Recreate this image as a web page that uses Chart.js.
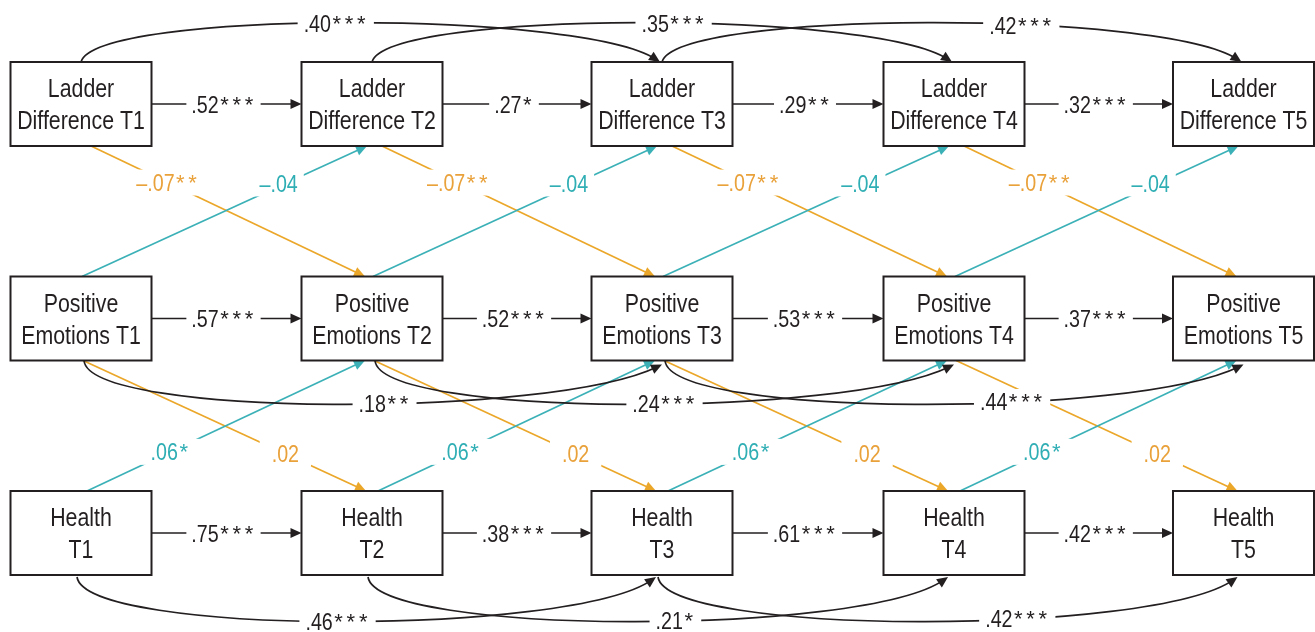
<!DOCTYPE html>
<html>
<head>
<meta charset="utf-8">
<script src="https://cdn.jsdelivr.net/npm/chart.js@4.4.1/dist/chart.umd.min.js"></script>
<style>
  html, body { margin: 0; padding: 0; background: #ffffff; }
  #wrap { width: 1315px; height: 632px; position: relative; }
</style>
</head>
<body>
<div id="wrap"><canvas id="diagram"></canvas></div>
<script>
// ---- Model structure -------------------------------------------------------
const timepoints = ['T1', 'T2', 'T3', 'T4', 'T5'];
const captionFirst = ['Ladder', 'Positive', 'Health'];
const captionSecond = ['Difference', 'Emotions', ''];

// Autoregressive paths (Ti -> Ti+1)
const ladderStability = [0.52, 0.27, 0.29, 0.32];
const ladderStabilitySig = ['***', '*', '**', '***'];
const emotionStability = [0.57, 0.52, 0.53, 0.37];
const emotionStabilitySig = ['***', '***', '***', '***'];
const healthStability = [0.75, 0.38, 0.61, 0.42];
const healthStabilitySig = ['***', '***', '***', '***'];

// Lag-2 paths (Ti -> Ti+2)
const ladderLag2 = [0.40, 0.35, 0.42];
const ladderLag2Sig = ['***', '***', '***'];
const emotionLag2 = [0.18, 0.24, 0.44];
const emotionLag2Sig = ['**', '***', '***'];
const healthLag2 = [0.46, 0.21, 0.42];
const healthLag2Sig = ['***', '*', '***'];

// Cross-lagged paths (constrained equal over time)
const ladderToEmotion = [-0.07, -0.07, -0.07, -0.07];
const ladderToEmotionSig = ['**', '**', '**', '**'];
const emotionToLadder = [-0.04, -0.04, -0.04, -0.04];
const emotionToLadderSig = ['', '', '', ''];
const emotionToHealth = [0.02, 0.02, 0.02, 0.02];
const emotionToHealthSig = ['', '', '', ''];
const healthToEmotion = [0.06, 0.06, 0.06, 0.06];
const healthToEmotionSig = ['*', '*', '*', '*'];

// ---- Layout and styling ----------------------------------------------------
const colX = [81, 372, 662, 954, 1243.5];
const rowY = [104, 318.5, 533];
const boxW = 141, boxH = 84;
const INK = '#231f20';
const ORANGE_LINE = '#eba729';
const ORANGE_TEXT = '#e9a13a';
const TEAL_LINE = '#3bb1b7';
const TEAL_TEXT = '#2faeb4';
const NARROW = 0.82;   // horizontal squeeze for a condensed look
const NODE_FONT = "26px 'Liberation Sans', Arial, sans-serif";
const LABEL_FONT = "24px 'Liberation Sans', Arial, sans-serif";
const STAR_FONT = "22px 'Liberation Sans', Arial, sans-serif";
const LINE_W = 1.7;

// where each lag-2 label sits along its arc (fraction of horizontal span)
const lag2LabelPos = [[0.44, 0.52, 0.62], [0.52, 0.50, 0.60], [0.45, 0.53, 0.62]];

function fmt(v) {
  const s = Math.abs(v).toFixed(2).replace(/^0/, '');
  return (v < 0 ? '\u2013' : '') + s;
}

const pathDiagram = {
  id: 'pathDiagram',
  afterDraw(chart) {
    const ctx = chart.ctx;
    const xs = chart.scales.x, ys = chart.scales.y;
    const X = v => xs.getPixelForValue(v);
    const Y = v => ys.getPixelForValue(v);
    const labels = [];

    function narrowText(text, x, y, align) {
      ctx.save();
      ctx.translate(x, y);
      ctx.scale(NARROW, 1);
      ctx.textAlign = align;
      ctx.textBaseline = 'alphabetic';
      ctx.fillText(text, 0, 0);
      ctx.restore();
    }

    function arrowHead(x, y, ang, color) {
      const L = 11, W = 5;
      ctx.save();
      ctx.fillStyle = color;
      ctx.beginPath();
      ctx.moveTo(x, y);
      ctx.lineTo(x - L * Math.cos(ang) + W * Math.sin(ang), y - L * Math.sin(ang) - W * Math.cos(ang));
      ctx.lineTo(x - L * Math.cos(ang) - W * Math.sin(ang), y - L * Math.sin(ang) + W * Math.cos(ang));
      ctx.closePath();
      ctx.fill();
      ctx.restore();
    }

    function straight(x0, y0, x1, y1, color) {
      const a = Math.atan2(Y(y1) - Y(y0), X(x1) - X(x0));
      ctx.save();
      ctx.strokeStyle = color;
      ctx.lineWidth = LINE_W;
      ctx.beginPath();
      ctx.moveTo(X(x0), Y(y0));
      ctx.lineTo(X(x1) - 6 * Math.cos(a), Y(y1) - 6 * Math.sin(a));
      ctx.stroke();
      ctx.restore();
      arrowHead(X(x1), Y(y1), a, color);
    }

    function bez(p, t) {
      const u = 1 - t;
      return [
        u*u*u*p[0][0] + 3*u*u*t*p[1][0] + 3*u*t*t*p[2][0] + t*t*t*p[3][0],
        u*u*u*p[0][1] + 3*u*u*t*p[1][1] + 3*u*t*t*p[2][1] + t*t*t*p[3][1]
      ];
    }

    function curve(p, color) {
      const q = p.map(pt => [X(pt[0]), Y(pt[1])]);
      const a = Math.atan2(q[3][1] - q[2][1], q[3][0] - q[2][0]);
      ctx.save();
      ctx.strokeStyle = color;
      ctx.lineWidth = LINE_W;
      ctx.beginPath();
      ctx.moveTo(q[0][0], q[0][1]);
      ctx.bezierCurveTo(q[1][0], q[1][1], q[2][0], q[2][1], q[3][0] - 5 * Math.cos(a), q[3][1] - 5 * Math.sin(a));
      ctx.stroke();
      ctx.restore();
      arrowHead(q[3][0], q[3][1], a, color);
    }

    function pointAtX(p, frac) {
      const target = p[0][0] + frac * (p[3][0] - p[0][0]);
      let lo = 0, hi = 1;
      for (let k = 0; k < 40; k++) {
        const m = (lo + hi) / 2;
        if (bez(p, m)[0] < target) lo = m; else hi = m;
      }
      return bez(p, (lo + hi) / 2);
    }

    function queueLabel(v, sig, x, y, color, pad) {
      labels.push({ num: fmt(v), sig, x: X(x), y: Y(y), color, pad });
    }

    function drawLabel(l) {
      ctx.save();
      ctx.font = LABEL_FONT;
      const wNum = ctx.measureText(l.num).width * NARROW;
      const starStep = 12.3;
      const w = wNum + l.sig.length * starStep;
      const left = l.x - w / 2;
      ctx.fillStyle = '#ffffff';
      ctx.fillRect(left - l.pad, l.y - 13, w + 2 * l.pad, 26);
      ctx.fillStyle = l.color;
      narrowText(l.num, left, l.y + 8.5, 'left');
      ctx.font = STAR_FONT;
      ctx.textAlign = 'left';
      ctx.textBaseline = 'alphabetic';
      for (let s = 0; s < l.sig.length; s++) {
        ctx.fillText('*', left + wNum + s * starStep + 1.5, l.y + 7.5);
      }
      ctx.restore();
    }

    const top = r => rowY[r] - boxH / 2;
    const bot = r => rowY[r] + boxH / 2;

    // autoregressive arrows
    const stability = [[ladderStability, ladderStabilitySig], [emotionStability, emotionStabilitySig], [healthStability, healthStabilitySig]];
    stability.forEach(([vals, sig], r) => {
      vals.forEach((v, i) => {
        const x0 = colX[i] + boxW / 2, x1 = colX[i + 1] - boxW / 2;
        straight(x0, rowY[r], x1, rowY[r], INK);
        queueLabel(v, sig[i], (x0 + x1) / 2 - 3, rowY[r], INK, 5);
      });
    });

    // cross-lagged arrows
    for (let i = 0; i < 4; i++) {
      // ladder -> emotions
      let a = [colX[i] + 10, bot(0)], b = [colX[i + 1] - 7, top(1)];
      straight(a[0], a[1], b[0], b[1], ORANGE_LINE);
      queueLabel(ladderToEmotion[i], ladderToEmotionSig[i], a[0] + 0.28 * (b[0] - a[0]), a[1] + 0.28 * (b[1] - a[1]), ORANGE_TEXT, 6);
      // emotions -> ladder
      a = [colX[i] + 1, top(1)]; b = [colX[i + 1] - 5, bot(0)];
      straight(a[0], a[1], b[0], b[1], TEAL_LINE);
      queueLabel(emotionToLadder[i], emotionToLadderSig[i], a[0] + 0.69 * (b[0] - a[0]), a[1] + 0.69 * (b[1] - a[1]) - 3, TEAL_TEXT, 6);
      // emotions -> health
      a = [colX[i] + 2, bot(1)]; b = [colX[i + 1] - 6, top(2)];
      straight(a[0], a[1], b[0], b[1], ORANGE_LINE);
      queueLabel(emotionToHealth[i], emotionToHealthSig[i], a[0] + 0.715 * (b[0] - a[0]), a[1] + 0.715 * (b[1] - a[1]), ORANGE_TEXT, 12);
      // health -> emotions
      a = [colX[i] + 6, top(2)]; b = [colX[i + 1] - 7, bot(1)];
      straight(a[0], a[1], b[0], b[1], TEAL_LINE);
      queueLabel(healthToEmotion[i], healthToEmotionSig[i], a[0] + 0.30 * (b[0] - a[0]), a[1] + 0.30 * (b[1] - a[1]), TEAL_TEXT, 10);
    }

    // lag-2 arcs
    for (let i = 0; i < 3; i++) {
      const c0 = colX[i], c2 = colX[i + 2];
      // ladder, above the row
      let p = [[c0, top(0)], [c0 + 15, 10], [c2 - 80, 10], [c2 - 2, top(0)]];
      curve(p, INK);
      let q = pointAtX(p, lag2LabelPos[0][i]);
      queueLabel(ladderLag2[i], ladderLag2Sig[i], q[0], q[1], INK, 6);
      // emotions, below the row
      p = [[c0 + 3, bot(1)], [c0 + 8, 418], [c2 - 110, 418], [c2, bot(1) + 4]];
      curve(p, INK);
      q = pointAtX(p, lag2LabelPos[1][i]);
      queueLabel(emotionLag2[i], emotionLag2Sig[i], q[0], q[1], INK, 6);
      // health, below the row
      p = [[c0 - 4, bot(2) + 2], [c0 + 5, 636], [c2 - 90, 636], [c2 - 6, bot(2) + 2]];
      curve(p, INK);
      q = pointAtX(p, lag2LabelPos[2][i]);
      queueLabel(healthLag2[i], healthLag2Sig[i], q[0], q[1], INK, 6);
    }

    // coefficient labels
    labels.forEach(drawLabel);

    // construct boxes
    ctx.save();
    for (let r = 0; r < 3; r++) {
      for (let i = 0; i < timepoints.length; i++) {
        const x0 = X(colX[i] - boxW / 2), y0 = Y(rowY[r] - boxH / 2);
        const x1 = X(colX[i] + boxW / 2), y1 = Y(rowY[r] + boxH / 2);
        ctx.fillStyle = '#ffffff';
        ctx.fillRect(x0, y0, x1 - x0, y1 - y0);
        ctx.strokeStyle = INK;
        ctx.lineWidth = 2;
        ctx.strokeRect(x0, y0, x1 - x0, y1 - y0);
        ctx.fillStyle = INK;
        ctx.font = NODE_FONT;
        const cx = X(colX[i]), cy = Y(rowY[r]);
        const second = captionSecond[r] ? captionSecond[r] + ' ' + timepoints[i] : timepoints[i];
        narrowText(captionFirst[r], cx, cy - 7, 'center');
        narrowText(second, cx, cy + 25, 'center');
      }
    }
    ctx.restore();
  }
};

new Chart(document.getElementById('diagram'), {
  type: 'scatter',
  data: { datasets: [] },
  options: {
    responsive: true,
    maintainAspectRatio: false,
    animation: false,
    events: [],
    layout: { padding: 0 },
    plugins: { legend: { display: false }, tooltip: { enabled: false } },
    scales: {
      x: { type: 'linear', min: 0, max: 1315, display: false },
      y: { type: 'linear', min: 0, max: 632, reverse: true, display: false }
    }
  },
  plugins: [pathDiagram]
});
</script>
</body>
</html>
